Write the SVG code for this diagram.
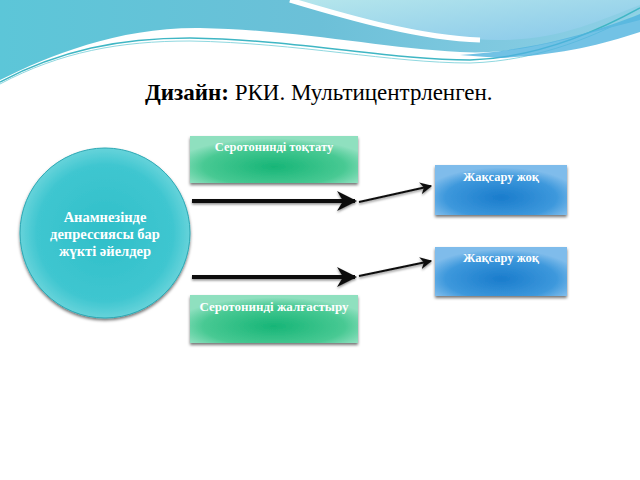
<svg xmlns="http://www.w3.org/2000/svg" width="640" height="480" viewBox="0 0 640 480">
<defs>
<linearGradient id="sky" x1="0" y1="0" x2="1" y2="0">
<stop offset="0" stop-color="#5cc6d8"/><stop offset="0.5" stop-color="#6cc0d8"/><stop offset="1" stop-color="#8fd0e6"/>
</linearGradient>
<linearGradient id="sky2" x1="0" y1="0" x2="1" y2="1">
<stop offset="0" stop-color="#b5e6ec"/><stop offset="1" stop-color="#88c8ea"/>
</linearGradient>
<radialGradient id="circ" cx="0.5" cy="0.5" r="0.5">
<stop offset="0" stop-color="#2fbfc9"/><stop offset="0.8" stop-color="#3fc6d0"/><stop offset="1" stop-color="#66d3da"/>
</radialGradient>
<radialGradient id="green" cx="0.5" cy="0.65" r="0.6">
<stop offset="0" stop-color="#17b577"/><stop offset="0.7" stop-color="#48c993"/><stop offset="1" stop-color="#8fe0bf"/>
</radialGradient>
<radialGradient id="blue" cx="0.5" cy="0.65" r="0.6">
<stop offset="0" stop-color="#1a7ccc"/><stop offset="0.7" stop-color="#3d98dc"/><stop offset="1" stop-color="#7fbceb"/>
</radialGradient>
<filter id="sh" x="-10%" y="-10%" width="130%" height="140%">
<feDropShadow dx="0" dy="2" stdDeviation="1.5" flood-color="#000" flood-opacity="0.55"/>
</filter>
<filter id="ash" filterUnits="userSpaceOnUse" x="0" y="0" width="640" height="480">
<feDropShadow dx="0" dy="1.5" stdDeviation="1.2" flood-color="#000" flood-opacity="0.45"/>
</filter>
<marker id="ah" viewBox="0 0 10 10" refX="9" refY="5" markerWidth="5" markerHeight="5" orient="auto" markerUnits="strokeWidth">
<path d="M0,0 L10,5 L0,10 L3,5 z" fill="#111"/>
</marker>
<marker id="ah2" viewBox="0 0 10 10" refX="9" refY="5" markerWidth="6" markerHeight="6" orient="auto" markerUnits="strokeWidth">
<path d="M0,0 L10,5 L0,10 L3,5 z" fill="#111"/>
</marker>
<style>
.lbl{font-family:'Liberation Serif',serif;font-weight:bold;fill:#fff;text-anchor:middle}
.big{stroke:#111;stroke-width:4;fill:none}
.sm{stroke:#111;stroke-width:2;fill:none}
</style>
</defs>
<rect width="640" height="480" fill="#fff"/>
<g id="header">
<path d="M0,0 H640 V20 C560,40 520,55 460,52 C380,48 300,30 200,28 C120,27 50,55 0,80 Z" fill="url(#sky)"/>
<path d="M290,0 H640 V5 C600,20 560,40 500,40 C430,40 360,20 290,0 Z" fill="url(#sky2)"/>
<path d="M290,0 C350,18 420,38 480,40" stroke="#fff" stroke-width="5" fill="none"/>
<path d="M0,82 C60,50 120,38 190,38 C300,40 390,60 470,60 C540,58 600,30 640,8" stroke="#3fb6c4" stroke-width="1.5" fill="none"/>
<path d="M0,84 C60,52 120,41 190,41 C300,43 390,63 470,63 C540,61 600,34 640,12" stroke="#8fd8e0" stroke-width="1" fill="none"/>
<path d="M460,55 C540,50 600,30 640,14 V32 C600,45 560,55 500,58 Z" fill="#4fb3de" opacity="0.8"/>
</g>
<g id="title">
<text x="145" y="100" font-family="'Liberation Serif', serif" font-size="23" fill="#000"><tspan font-weight="bold">Дизайн:</tspan> РКИ. Мультицентрленген.</text>
</g>
<g id="connectors">
<line x1="192" y1="201" x2="355" y2="201" class="big" marker-end="url(#ah)" filter="url(#ash)"/>
<line x1="192" y1="277" x2="355" y2="277" class="big" marker-end="url(#ah)" filter="url(#ash)"/>
<line x1="359" y1="202" x2="431" y2="186" class="sm" marker-end="url(#ah2)" filter="url(#ash)"/>
<line x1="359" y1="276" x2="431" y2="261" class="sm" marker-end="url(#ah2)" filter="url(#ash)"/>
</g>
<g id="node-women">
<circle cx="105" cy="233" r="85" fill="url(#circ)" stroke="#2aa8b4" stroke-width="1" filter="url(#sh)"/>
<text class="lbl" font-size="14.5" x="105" y="222">Анамнезінде</text>
<text class="lbl" font-size="14.5" x="105" y="239">депрессиясы бар</text>
<text class="lbl" font-size="14.5" x="105" y="256">жүкті әйелдер</text>
</g>
<g id="node-stop">
<rect x="190" y="136" width="168" height="47" fill="url(#green)" filter="url(#sh)"/>
<text class="lbl" font-size="12.5" x="274" y="151">Серотонинді тоқтату</text>
</g>
<g id="node-continue">
<rect x="190" y="295" width="168" height="48" fill="url(#green)" filter="url(#sh)"/>
<text class="lbl" font-size="13" x="274" y="311">Серотонинді жалғастыру</text>
</g>
<g id="node-noimp1">
<rect x="435" y="165" width="132" height="50" fill="url(#blue)" filter="url(#sh)"/>
<text class="lbl" font-size="12.5" x="501" y="181">Жақсару жоқ</text>
</g>
<g id="node-noimp2">
<rect x="435" y="247" width="132" height="49" fill="url(#blue)" filter="url(#sh)"/>
<text class="lbl" font-size="12.5" x="501" y="262">Жақсару жоқ</text>
</g>
</svg>
